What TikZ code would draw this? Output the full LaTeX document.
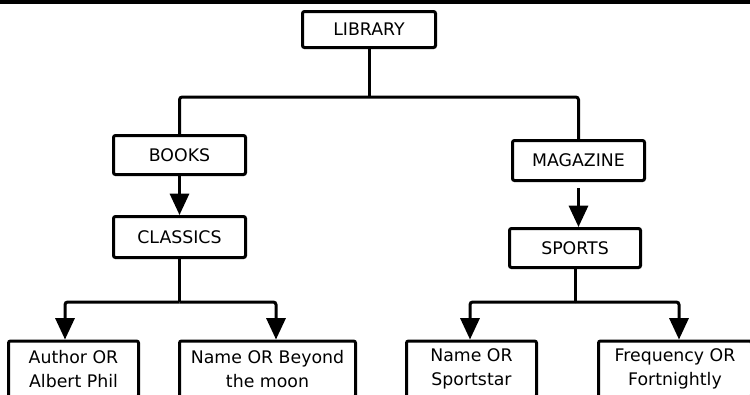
\documentclass[tikz,border=0pt]{standalone}
\usepackage{fontspec}
\setmainfont{DejaVu Sans}
\usetikzlibrary{arrows.meta}
\begin{document}
\begin{tikzpicture}[x=0.75pt,y=-0.75pt,
  box/.style={draw, line width=2.25pt, rounded corners=1.5pt, inner sep=0pt, align=center,
              font=\fontsize{13}{18}\selectfont},
  conn/.style={line width=2.25pt, rounded corners=2pt},
  arr/.style={conn, -{Triangle[width=14.25pt,length=16pt]}}
]
\useasboundingbox (0,0) rectangle (750,394);
\clip (0,0) rectangle (750,394);
\fill[black] (0,0) rectangle (750,4);

\node[box, minimum width=99.75pt, minimum height=27pt] (lib) at (369,29.5) {LIBRARY};
\node[box, minimum width=99pt, minimum height=29.25pt] (books) at (179.5,155) {BOOKS};
\node[box, minimum width=99pt, minimum height=30.75pt] (classics) at (179.5,237) {CLASSICS};
\node[box, minimum width=99pt, minimum height=30pt] (mag) at (578.5,160.5) {MAGAZINE};
\node[box, minimum width=98.25pt, minimum height=29.25pt] (sports) at (575,248) {SPORTS};
\node[box, minimum width=97.5pt, minimum height=42pt] (author) at (73.5,369) {Author OR\\Albert Phil};
\node[box, minimum width=132pt, minimum height=42pt] (nameb) at (267.5,369) {Name OR Beyond\\the moon};
\node[box, minimum width=97.5pt, minimum height=42pt] (names) at (471.5,369) {Name OR\\Sportstar};
\node[box, minimum width=114.75pt, minimum height=42pt] (freq) at (675,369) {Frequency OR\\Fortnightly};

\coordinate (top) at (369,97);
\coordinate (cL) at (65,302);
\coordinate (cR) at (276,302);
\coordinate (sL) at (470,302);
\coordinate (sR) at (679,302);

\draw[conn] (lib.south) -- (top);
\draw[conn] (books.north) -- (books.north |- top) -- (mag.north |- top) -- (mag.north);
\draw[arr] (books.south) -- (classics.north);
\draw[arr] ([yshift=-4.5pt]mag.south) -- (mag.south |- sports.north);

\draw[conn] (classics.south) -- (classics.south |- cL);
\draw[arr] (classics.south |- cL) -- (cL) -- (cL |- author.north);
\draw[arr] (classics.south |- cL) -- (cR) -- (cR |- nameb.north);

\draw[conn] (sports.south) -- (sports.south |- sL);
\draw[arr] (sports.south |- sL) -- (sL) -- (sL |- names.north);
\draw[arr] (sports.south |- sL) -- (sR) -- (sR |- freq.north);
\end{tikzpicture}
\end{document}
